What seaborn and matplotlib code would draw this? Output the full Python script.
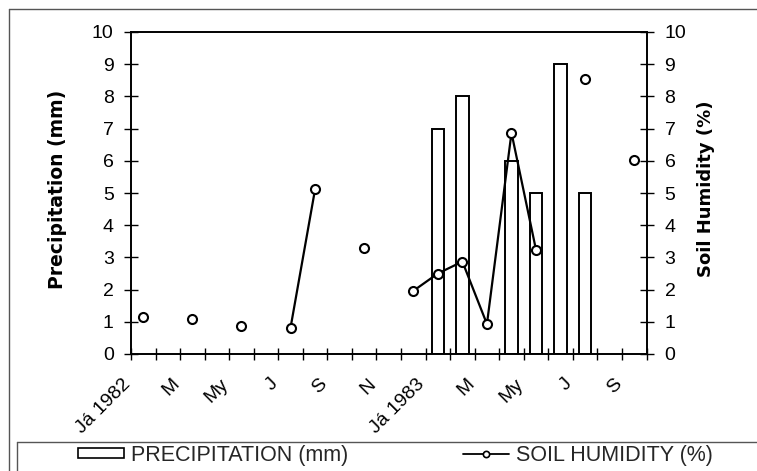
import numpy as np
import pandas as pd
import matplotlib
matplotlib.use("Agg")
import matplotlib.pyplot as plt
import seaborn as sns
from matplotlib.patches import Patch
from matplotlib.lines import Line2D

# ---- data ----
n_months = 21  # Jan 1982 .. Sep 1983
tick_labels = ["Já 1982", "M", "My", "J", "S", "N", "Já 1983", "M", "My", "J", "S"]
precip_months = [12, 13, 15, 16, 17, 18]
precip_values = [7, 8, 6, 5, 9, 5]
hum_months = [0, 2, 4, 6, 7, 9, 11, 12, 13, 14, 15, 16, 18, 20]
hum_values = [1.16, 1.08, 0.87, 0.82, 5.12, 3.30, 1.96, 2.50, 2.87, 0.93, 6.87, 3.23, 8.54, 6.02]

sns.set_style("white")
plt.rcParams["font.family"] = ["Liberation Sans", "DejaVu Sans"]

W, H = 757, 471
fig = plt.figure(figsize=(W / 100, H / 100), dpi=100)
fig.patch.set_facecolor("white")


def fx(px):
    return px / W


def fy(py):
    return 1 - py / H


L, R, T, B = 131, 646.5, 32, 354
ax = fig.add_axes([fx(L), fy(B), fx(R) - fx(L), fy(T) - fy(B)])
ax2 = ax.twinx()

df_p = pd.DataFrame({"month": precip_months, "precip": precip_values})
sns.barplot(data=df_p, x="month", y="precip", order=list(range(n_months)),
            width=0.5, color="white", saturation=1, edgecolor="black",
            linewidth=1.4, ax=ax)

hum_full = np.full(n_months, np.nan)
hum_full[hum_months] = hum_values
ax2.plot(np.arange(n_months), hum_full, color="black", lw=1.6, marker="o",
         ms=6.5, mfc="white", mec="black", mew=1.5, zorder=5)

ax.set_xlim(-0.5, n_months - 0.5)
ax.set_ylim(0, 10)
ax2.set_ylim(0, 10)
ax.set_yticks(range(11))
ax2.set_yticks(range(11))

ticks = np.arange(-0.5, n_months, 1.0)
labels = []
for i in range(len(ticks)):
    if i % 2 == 0 and i // 2 < len(tick_labels):
        labels.append(tick_labels[i // 2])
    else:
        labels.append("")
ax.set_xticks(ticks)
ax.set_xticklabels(labels, rotation=45, ha="right", va="baseline",
                   rotation_mode="anchor")
ax.set_xlabel("")

ax.tick_params(axis="x", bottom=True, direction="inout", length=8, width=1,
               pad=18, labelsize=14, colors="black")
ax.tick_params(axis="y", left=True, direction="inout", length=10, width=1,
               pad=7.5, labelsize=14, colors="black")
ax2.tick_params(axis="y", right=True, direction="inout", length=10, width=1,
                pad=8, labelsize=14, colors="black")

for a in (ax, ax2):
    for s in a.spines.values():
        s.set_color("black")
        s.set_linewidth(1.2)

ax.set_ylabel("Precipitation (mm)", fontfamily="DejaVu Sans", fontweight="bold",
              fontsize=13.5, color="black")
ax.yaxis.set_label_coords((57.5 - L) / (R - L), (B - 189) / (B - T))
ax.yaxis.label.set_verticalalignment("center")
ax2.set_ylabel("Soil Humidity (%)", fontfamily="DejaVu Sans", fontweight="bold",
               fontsize=13, color="black", rotation=90)
ax2.yaxis.set_label_coords((706 - L) / (R - L), (B - 189) / (B - T))
ax2.yaxis.label.set_verticalalignment("center")

# legend
handles = [
    Patch(facecolor="white", edgecolor="black", lw=1.2),
    Line2D([], [], color="black", lw=1.3, marker="o", ms=4.5, mfc="white",
           mec="black", mew=1.2),
]
fig.legend(handles, ["PRECIPITATION (mm)", "SOIL HUMIDITY (%)"],
           loc="center left", bbox_to_anchor=(fx(78), fy(455)), ncol=2,
           frameon=False, fontsize=15.5, handlelength=2.15, handleheight=0.33,
           handletextpad=0.33, columnspacing=5.3, borderpad=0, borderaxespad=0)

# outer frame and legend box lines (cropped at image edges)
frame_kw = dict(color="#555555", lw=1.0, transform=fig.transFigure, clip_on=False)
fig.add_artist(Line2D([fx(9), 1.01], [fy(9), fy(9)], **frame_kw))
fig.add_artist(Line2D([fx(9), fx(9)], [fy(9), -0.01], **frame_kw))
fig.add_artist(Line2D([fx(17), 1.01], [fy(442), fy(442)], **frame_kw))
fig.add_artist(Line2D([fx(17), fx(17)], [fy(442), -0.01], **frame_kw))

fig.savefig("out.png", dpi=100)
